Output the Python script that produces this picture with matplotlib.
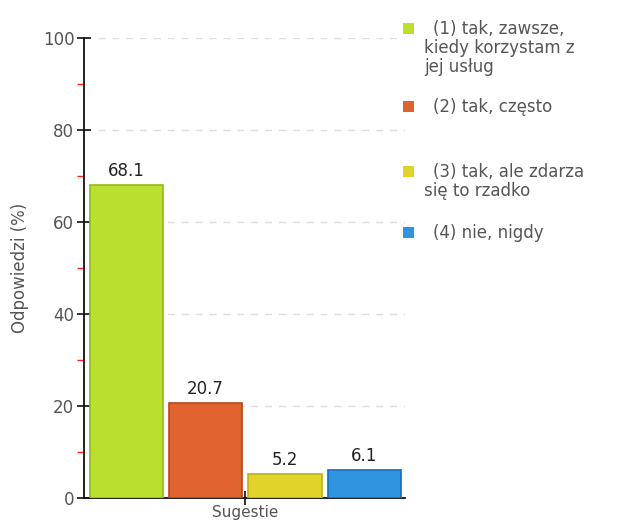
import matplotlib
matplotlib.use("Agg")
import matplotlib.pyplot as plt
from matplotlib.patches import Rectangle

categories = ["(1) tak, zawsze,\nkiedy korzystam z\njej usług",
              "(2) tak, często",
              "(3) tak, ale zdarza\nsię to rzadko",
              "(4) nie, nigdy"]
values = [68.1, 20.7, 5.2, 6.1]
colors = ["#BADF2E", "#E0632F", "#E0D42B", "#2F95E0"]
edges = ["#94B81A", "#B8461A", "#BDB01A", "#1A6CB8"]
x_label = "Sugestie"
y_label = "Odpowiedzi (%)"
yticks = [0, 20, 40, 60, 80, 100]
minor_yticks = [10, 30, 50, 70, 90]

W, H = 619, 524
fig = plt.figure(figsize=(W / 100, H / 100), dpi=100)
ax = fig.add_axes([84 / W, 1 - 498 / H, (405 - 84) / W, (498 - 38) / H])

FS = 12
xs = list(range(len(values)))
ax.bar(xs, values, width=0.92, color=colors, edgecolor=edges, linewidth=1.2, zorder=3)
for x, v in zip(xs, values):
    ax.text(x, v + 1.0, f"{v}", ha="center", va="bottom", fontsize=FS, color="#222222", zorder=4)

ax.set_xlim(-0.53, 3.51)
ax.set_ylim(0, 100)
ax.set_yticks(yticks)
ax.set_yticks(minor_yticks, minor=True)
ax.set_xticks([1.5])
ax.set_xticklabels([x_label])
ax.tick_params(axis="y", which="major", direction="inout", length=10, width=1.2, color="#111111",
               labelsize=FS, labelcolor="#555555", pad=2)
ax.tick_params(axis="y", which="minor", direction="out", length=5, width=1, color="#FF2020")
ax.tick_params(axis="x", which="major", direction="inout", length=10, width=1.2, color="#111111",
               labelsize=11, labelcolor="#555555", pad=0)
ax.set_ylabel(y_label, fontsize=FS, color="#555555", labelpad=10)

for s in ["top", "right"]:
    ax.spines[s].set_visible(False)
for s in ["left", "bottom"]:
    ax.spines[s].set_color("#111111")
    ax.spines[s].set_linewidth(1.3)
ax.yaxis.grid(True, which="major", linestyle=(0, (5, 5)), color="#DDDDDD", linewidth=1, zorder=0)
ax.set_axisbelow(True)

# legend drawn manually
entry_y = [29, 107, 172, 233]
for label, c, e, yy in zip(categories, colors, edges, entry_y):
    fig.patches.append(Rectangle((403 / W, 1 - (yy + 5) / H), 11 / W, 11 / H,
                                 transform=fig.transFigure, facecolor=c, edgecolor="none"))
    lines = label.split("\n")
    for i, ln in enumerate(lines):
        xpos = 433 if i == 0 else 424
        fig.text(xpos / W, 1 - (yy + i * 19) / H, ln, fontsize=FS, color="#555555",
                 ha="left", va="center")

fig.savefig("out.png", dpi=100)
